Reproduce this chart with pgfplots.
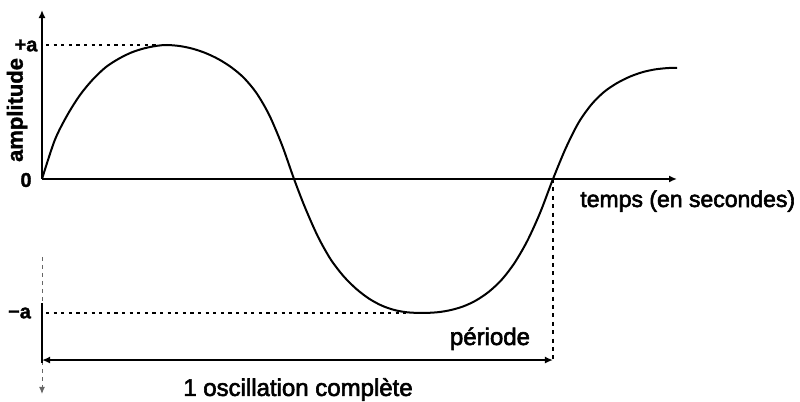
\documentclass[border=0pt]{standalone}
\usepackage{fontspec}
\setmainfont{Liberation Sans}
\newfontfamily\medfont[FakeBold=2.5]{Liberation Sans}
\newfontfamily\boldish[FakeBold=1.5]{Liberation Sans Bold}
\usepackage{pgfplots}
\pgfplotsset{compat=1.18}
\usetikzlibrary{arrows.meta}
\begin{document}
\begin{tikzpicture}
\begin{axis}[
  scale only axis, width=400pt, height=201pt,
  xmin=-0.0822, xmax=1.4834, ymin=-1.6642, ymax=1.3358,
  hide axis, clip=false,
]
\path (rel axis cs:0,0) rectangle (rel axis cs:1,1);
% guides
\draw[line width=0.6pt, dash pattern=on 1.6pt off 2.2pt] (axis cs:0.008,1) -- (axis cs:0.231,1);
\draw[line width=0.6pt, dash pattern=on 1.6pt off 2.2pt] (axis cs:0.008,-1) -- (axis cs:0.720,-1);
\draw[line width=0.7pt, dash pattern=on 2pt off 2.2pt] (axis cs:1,0) -- (axis cs:1,-1.351);
% axes
\draw[line width=0.9pt, -{Latex[length=4pt,width=3.5pt]}] (axis cs:0,0) -- (axis cs:1.2427,0);
\draw[line width=0.8pt, -{Latex[length=4pt,width=3.5pt]}] (axis cs:0,0) -- (axis cs:0,1.261);
\draw[line width=0.5pt, black!60, dash pattern=on 2pt off 2pt, -{Latex[length=3.5pt,width=3pt]}] (axis cs:0,-0.582) -- (axis cs:0,-1.604);
\draw[line width=0.7pt] (axis cs:0,-0.925) -- (axis cs:0,-1.373);
\draw[line width=0.8pt, {Latex[length=4pt,width=3.5pt]}-{Latex[length=4pt,width=3.5pt]}] (axis cs:0,-1.351) -- (axis cs:1,-1.351);
% curve
\addplot[black, line width=1pt, smooth, tension=0.5] coordinates {
(0,0) (0.025,0.29) (0.05,0.48) (0.075,0.63) (0.10,0.745) (0.125,0.835)
(0.15,0.897) (0.175,0.944) (0.20,0.975) (0.225,0.994) (0.2446,1.0)
(0.27,0.992) (0.295,0.972) (0.32,0.94) (0.345,0.895) (0.37,0.835)
(0.395,0.755) (0.42,0.64) (0.445,0.475) (0.47,0.25) (0.4932,0)
(0.515,-0.215) (0.54,-0.43) (0.565,-0.6) (0.59,-0.725) (0.615,-0.82)
(0.64,-0.893) (0.665,-0.945) (0.69,-0.978) (0.715,-0.995) (0.745,-1.0)
(0.775,-0.994) (0.80,-0.978) (0.825,-0.95) (0.85,-0.905) (0.875,-0.84)
(0.90,-0.75) (0.925,-0.625) (0.95,-0.46) (0.975,-0.25) (1.0,0)
(1.025,0.23) (1.05,0.42) (1.075,0.555) (1.10,0.65) (1.125,0.715)
(1.15,0.763) (1.175,0.797) (1.20,0.818) (1.225,0.828) (1.2427,0.83)
};
% labels
\node[rotate=90, font=\boldish\fontsize{11pt}{13pt}\selectfont] at (axis cs:-0.0489,0.515) {amplitude};
\node[font=\boldish\fontsize{10pt}{12pt}\selectfont] at (axis cs:-0.0313,0.996) {+a};
\node[font=\boldish\fontsize{10pt}{12pt}\selectfont] at (axis cs:-0.0313,-0.0075) {0};
\node[font=\boldish\fontsize{10pt}{12pt}\selectfont] at (axis cs:-0.044,-1.0) {−a};
\node[anchor=base west, inner sep=0pt, font=\medfont\fontsize{11.5pt}{13pt}\selectfont] at (axis cs:1.0528,-0.209) {temps (en secondes)};
\node[anchor=base, inner sep=0pt, font=\medfont\fontsize{12pt}{14pt}\selectfont] at (axis cs:0.8767,-1.2388) {période};
\node[anchor=base, inner sep=0pt, font=\medfont\fontsize{12pt}{14pt}\selectfont] at (axis cs:0.501,-1.619) {1 oscillation complète};
\end{axis}
\end{tikzpicture}
\end{document}
